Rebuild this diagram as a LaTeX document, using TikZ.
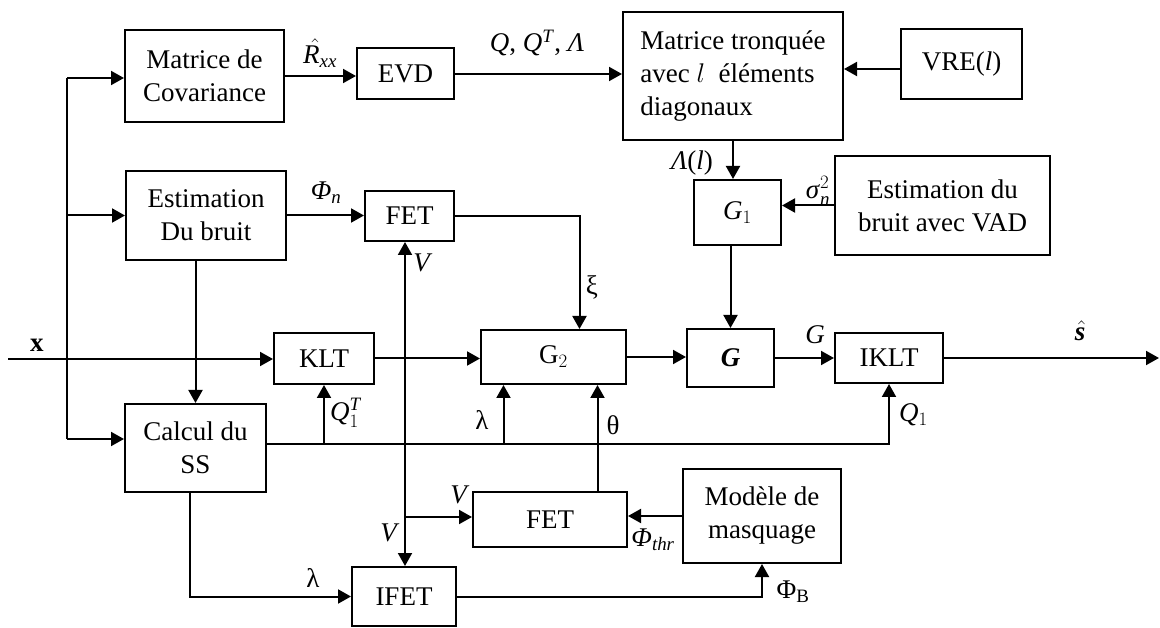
\RequirePackage{fix-cm}
\documentclass[tikz,border=0pt]{standalone}
\usepackage{amsmath}
\usepackage{bm}
\usepackage{fontspec}
\setmainfont{Liberation Serif}
\usetikzlibrary{arrows.meta,calc}
\begin{document}
\begin{tikzpicture}[x=1pt,y=-1pt, line width=2pt,
  font=\fontsize{27}{33}\selectfont,
  blk/.style={draw, inner sep=0pt, align=center},
  arr/.style={-{Triangle[length=13pt,width=14pt]}},
  lbl/.style={inner sep=0pt}]
\useasboundingbox (0,0) rectangle (1160,628);
% blocks
\node[blk, minimum width=159pt, minimum height=92pt] (cov) at (204.5,76) {Matrice de\\Covariance};
\node[blk, minimum width=97pt, minimum height=51pt] (evd) at (405.5,74) {EVD};
\node[blk, minimum width=220pt, minimum height=128pt, align=left] (mt) at (733,76) {Matrice tronquée\\avec $l$\ \ éléments\\diagonaux};
\node[blk, minimum width=121pt, minimum height=70pt] (vre) at (961.5,64) {VRE(\textit{l})};
\node[blk, minimum width=87pt, minimum height=65pt] (g1) at (737.5,212.5) {$\mathit{G}_1$};
\node[blk, minimum width=215pt, minimum height=99pt] (vad) at (942.5,205.5) {Estimation du\\bruit avec VAD};
\node[blk, minimum width=160pt, minimum height=89pt] (est) at (206,215.5) {Estimation\\Du bruit};
\node[blk, minimum width=89pt, minimum height=50pt] (fet1) at (409.5,216) {FET};
\node[blk, minimum width=100pt, minimum height=51pt] (klt) at (324,358.5) {KLT};
\node[blk, minimum width=145pt, minimum height=54pt] (g2) at (553.5,357) {G$_2$};
\node[blk, minimum width=87pt, minimum height=58pt] (gg) at (730.5,358) {\textbf{\textit{G}}};
\node[blk, minimum width=108pt, minimum height=50pt] (iklt) at (889,358) {IKLT};
\node[blk, minimum width=141pt, minimum height=88pt] (calc) at (195.5,448) {Calcul du\\SS};
\node[blk, minimum width=154pt, minimum height=55pt] (fet2) at (550,519.5) {FET};
\node[blk, minimum width=158pt, minimum height=94pt] (mod) at (762,516) {Modèle de\\masquage};
\node[blk, minimum width=104pt, minimum height=59pt] (ifet) at (404,596.5) {IFET};
% coordinates
\coordinate (xin) at (8,359);
\coordinate (out) at (1159,358);
\coordinate (bt) at (67,78);
\coordinate (bb) at (67,439);
\coordinate (vx) at (405,517);
\coordinate (sb) at ([yshift=4pt]calc.east);
\coordinate (lx) at ([xshift=-50pt]g2.south);
\coordinate (tx) at ([xshift=44pt]g2.south);
% connectors
\draw[arr] (cov.east) -- (cov.east -| evd.west);
\draw[arr] (evd.east) -- (evd.east -| mt.west);
\draw[arr] ([yshift=-5pt]vre.west) -- ([yshift=-5pt]vre.west -| mt.east);
\draw[arr] (mt.south) -- (mt.south |- g1.north);
\draw[arr] (vad.west) -- (vad.west -| g1.east);
\draw[arr] (gg.north |- g1.south) -- (gg.north);
\draw[arr] (est.east) -- (est.east -| fet1.west);
\draw[arr] (fet1.east) -| ([xshift=26pt]g2.north);
\draw[arr] (xin) -- (xin -| klt.west);
\draw[arr] (klt.east) -- (klt.east -| g2.west);
\draw[arr] (g2.east) -- (g2.east -| gg.west);
\draw[arr] (gg.east) -- (gg.east -| iklt.west);
\draw[arr] (iklt.east) -- (out);
\draw (bt) -- (bb);
\draw[arr] (bt) -- (bt -| cov.west);
\draw[arr] (bt |- est.west) -- (est.west);
\draw[arr] (bb) -- (bb -| calc.west);
\draw[arr] (calc.north |- est.south) -- (calc.north);
\draw[arr] (sb) -| (iklt.south);
\draw[arr] (sb -| klt.south) -- (klt.south);
\draw[arr] (lx |- sb) -- (lx);
\draw[arr] (tx |- fet2.north) -- (tx);
\draw[arr] (vx) -- (vx |- fet1.south);
\draw[arr] (vx) -- (vx |- ifet.north);
\draw[arr] (vx) -- (vx -| fet2.west);
\draw[arr] (mod.west) -- (mod.west -| fet2.east);
\draw[arr] ([xshift=-6pt]calc.south) |- (ifet.west);
\draw[arr] (ifet.east) -| (mod.south);
% labels
\node[lbl] (lrxx) at (320,53) {$\skew{5}{\hat}{\mathit{R}}_{\mathit{xx}}$};
\node[lbl] (lq) at (537,43) {\textit{Q}, \textit{Q}\textsuperscript{\textit{T}}, \textit{Λ}};
\node[lbl] (lphin) at (326,193) {$\text{\textit{Φ}}_{\mathit{n}}$};
\node[lbl] (lv1) at (423,263) {\textit{V}};
\node[lbl] (lxi) at (592,287) {ξ};
\node[lbl] (llam) at (692,163) {\textit{Λ}(\textit{l})};
\node[lbl] (lsig) at (818,191) {$\text{\textit{σ}}_{\mathit{n}}^{2}$};
\node[lbl] (lx0) at (37,345) {\textbf{x}};
\node[lbl, anchor=west] (lq1t) at (329,413) {$\mathit{Q}_1^{\mathit{T}}$};
\node[lbl] (ll1) at (482,420) {λ};
\node[lbl] (lth) at (613,425) {θ};
\node[lbl] (lg) at (815,335) {\textit{G}};
\node[lbl] (ls) at (1080,331) {$\skew{2}{\hat}{\text{\textbf{\textit{s}}}}$};
\node[lbl, anchor=west] (lq1) at (898,415) {$\mathit{Q}_1$};
\node[lbl] (lv2) at (460,495) {\textit{V}};
\node[lbl] (lv3) at (390,533) {\textit{V}};
\node[lbl] (lthr) at (653,540) {$\text{\textit{Φ}}_{\mathit{thr}}$};
\node[lbl] (ll2) at (313,578) {λ};
\node[lbl] (lphib) at (793,592) {Φ$_{\mathrm{B}}$};
\end{tikzpicture}
\end{document}
